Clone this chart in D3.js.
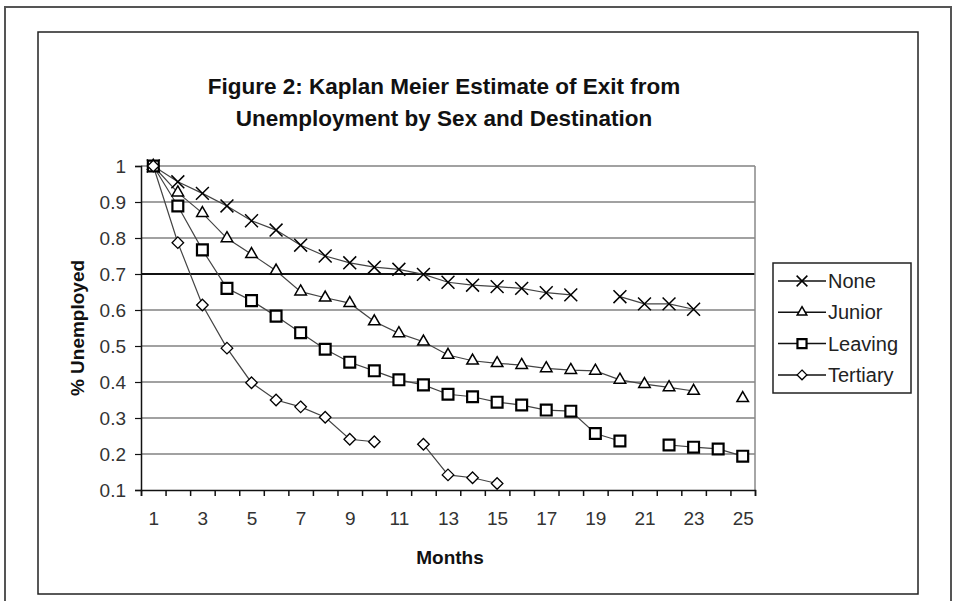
<!DOCTYPE html>
<html>
<head>
<meta charset="utf-8">
<script src="https://cdn.jsdelivr.net/npm/d3@7"></script>
<style>
  body { margin: 0; background: #fff; }
  text { font-family: "Liberation Sans", Arial, sans-serif; }
</style>
</head>
<body>
<script>
// months 1..25, null = no estimate that month
const months = d3.range(1, 26);
const none = [1, 0.956, 0.924, 0.889, 0.848, 0.822, 0.78, 0.75, 0.731, 0.719, 0.713, 0.699, 0.677,
  0.669, 0.665, 0.66, 0.648, 0.642, null, 0.637, 0.617, 0.617, 0.602, null, null];
const junior = [1, 0.926, 0.869, 0.799, 0.755, 0.709, 0.651, 0.634, 0.619, 0.568, 0.535, 0.512, 0.475,
  0.459, 0.452, 0.447, 0.438, 0.433, 0.431, 0.406, 0.394, 0.385, 0.375, null, 0.355];
const leaving = [1, 0.889, 0.767, 0.66, 0.626, 0.583, 0.537, 0.491, 0.455, 0.431, 0.406, 0.392, 0.366,
  0.359, 0.344, 0.336, 0.322, 0.319, 0.257, 0.236, null, 0.225, 0.219, 0.214, 0.194];
const tertiary = [1, 0.787, 0.614, 0.494, 0.398, 0.35, 0.331, 0.302, 0.241, 0.234, null, 0.227, 0.142,
  0.134, 0.118, null, null, null, null, null, null, null, null, null, null];
const seriesNames = ["None", "Junior", "Leaving", "Tertiary"];
const yTicks = [0.1, 0.2, 0.3, 0.4, 0.5, 0.6, 0.7, 0.8, 0.9, 1];
const xLabels = months.filter(m => m % 2 === 1);

const W = 959, H = 601;
const plot = { left: 141, right: 755, top: 166, bottom: 490 };

const series = [
  { name: seriesNames[0], values: none, symbol: d3.symbolX, size: 110, sw: 1.5 },
  { name: seriesNames[1], values: junior, symbol: d3.symbolTriangle2, size: 95, sw: 1.5 },
  { name: seriesNames[2], values: leaving, symbol: d3.symbolSquare2, size: 150, sw: 2.2 },
  { name: seriesNames[3], values: tertiary, symbol: d3.symbolDiamond2, size: 85, sw: 1.3 }
];

const svg = d3.select("body").append("svg")
  .attr("width", W)
  .attr("height", H);

// outer frame and chart frame
svg.append("rect")
  .attr("x", 5).attr("y", 7).attr("width", 946).attr("height", 610)
  .attr("fill", "#fff").attr("stroke", "#555").attr("stroke-width", 2);
svg.append("rect")
  .attr("x", 38).attr("y", 32).attr("width", 880).attr("height", 562)
  .attr("fill", "#fff").attr("stroke", "#222").attr("stroke-width", 1.5);

const x = d3.scaleLinear().domain([0.5, 25.5]).range([plot.left, plot.right]);
const y = d3.scaleLinear().domain([0.1, 1]).range([plot.bottom, plot.top]);

// title
const title = svg.append("text")
  .attr("text-anchor", "middle")
  .attr("font-weight", "bold")
  .attr("font-size", 22.5)
  .attr("fill", "#111");
title.append("tspan").attr("x", 444).attr("y", 94).text("Figure 2: Kaplan Meier Estimate of Exit from");
title.append("tspan").attr("x", 444).attr("y", 126).text("Unemployment by Sex and Destination");

// gridlines
svg.append("g")
  .selectAll("line")
  .data(yTicks.filter(d => d > 0.1))
  .join("line")
  .attr("x1", plot.left).attr("x2", plot.right)
  .attr("y1", d => y(d)).attr("y2", d => y(d))
  .attr("stroke", d => d === 0.7 ? "#111" : "#444")
  .attr("stroke-width", d => d === 0.7 ? 2 : 1.2);

// plot border right side
svg.append("line")
  .attr("x1", plot.right).attr("x2", plot.right)
  .attr("y1", plot.top).attr("y2", plot.bottom)
  .attr("stroke", "#888").attr("stroke-width", 1.5);

// y axis
const yAxis = svg.append("g")
  .attr("transform", `translate(${plot.left},0)`)
  .call(d3.axisLeft(y).tickValues(yTicks).tickSize(6).tickPadding(9)
    .tickFormat(d => d === 1 ? "1" : d.toFixed(1)));
yAxis.select(".domain").attr("stroke", "#111").attr("stroke-width", 1.5);
yAxis.selectAll(".tick line").attr("stroke", "#111").attr("stroke-width", 1.2);
yAxis.selectAll("text").attr("font-size", 19).attr("fill", "#333")
  .attr("font-family", "'Liberation Sans', Arial, sans-serif");

// x axis: ticks at category boundaries, labels at odd months
const xAxis = svg.append("g")
  .attr("transform", `translate(0,${plot.bottom})`)
  .call(d3.axisBottom(x).tickValues(d3.range(0.5, 26, 1)).tickSize(6).tickFormat(""));
xAxis.select(".domain").attr("stroke", "#111").attr("stroke-width", 1.5);
xAxis.selectAll(".tick line").attr("stroke", "#111").attr("stroke-width", 1.5);

const xLab = svg.append("g")
  .attr("transform", `translate(0,${plot.bottom})`)
  .call(d3.axisBottom(x).tickValues(xLabels).tickSize(0).tickPadding(22).tickFormat(d3.format("d")));
xLab.select(".domain").remove();
xLab.selectAll("text").attr("font-size", 19).attr("fill", "#333")
  .attr("font-family", "'Liberation Sans', Arial, sans-serif");

// axis titles
svg.append("text")
  .attr("transform", `translate(77,${(plot.top + plot.bottom) / 2}) rotate(-90)`)
  .attr("text-anchor", "middle")
  .attr("dominant-baseline", "central")
  .attr("font-weight", "bold")
  .attr("font-size", 19)
  .attr("fill", "#111")
  .text("% Unemployed");
svg.append("text")
  .attr("x", 450).attr("y", 564)
  .attr("text-anchor", "middle")
  .attr("font-weight", "bold")
  .attr("font-size", 19)
  .attr("fill", "#111")
  .text("Months");

// lines and markers
const line = d3.line()
  .defined(d => d.v != null)
  .x(d => x(d.m))
  .y(d => y(d.v));

const g = svg.append("g");
series.forEach(s => {
  const pts = months.map((m, i) => ({ m, v: s.values[i] }));
  g.append("path")
    .datum(pts)
    .attr("fill", "none")
    .attr("stroke", "#444")
    .attr("stroke-width", 1.2)
    .attr("d", line);
});
series.forEach(s => {
  const pts = months.map((m, i) => ({ m, v: s.values[i] })).filter(d => d.v != null);
  g.append("g")
    .selectAll("path")
    .data(pts)
    .join("path")
    .attr("transform", d => `translate(${x(d.m)},${y(d.v)})`)
    .attr("d", d3.symbol(s.symbol, s.size))
    .attr("fill", s.symbol === d3.symbolX ? "none" : "#fff")
    .attr("stroke", "#000")
    .attr("stroke-width", s.sw);
});

// legend
const legend = svg.append("g");
legend.append("rect")
  .attr("x", 773).attr("y", 263).attr("width", 138).attr("height", 130)
  .attr("fill", "#fff").attr("stroke", "#222").attr("stroke-width", 1.5);
const li = legend.selectAll("g.item")
  .data(series)
  .join("g")
  .attr("class", "item")
  .attr("transform", (d, i) => `translate(0,${281 + i * 31.3})`);
li.append("line")
  .attr("x1", 778).attr("x2", 826).attr("y1", 0).attr("y2", 0)
  .attr("stroke", "#111").attr("stroke-width", 1.5);
li.append("path")
  .attr("transform", "translate(802,0)")
  .attr("d", d => d3.symbol(d.symbol, d.size * 0.7)())
  .attr("fill", d => d.symbol === d3.symbolX ? "none" : "#fff")
  .attr("stroke", "#000")
  .attr("stroke-width", d => d.sw);
li.append("text")
  .attr("x", 828).attr("y", 0)
  .attr("dominant-baseline", "central")
  .attr("font-size", 20)
  .attr("fill", "#222")
  .text(d => d.name);
</script>
</body>
</html>
